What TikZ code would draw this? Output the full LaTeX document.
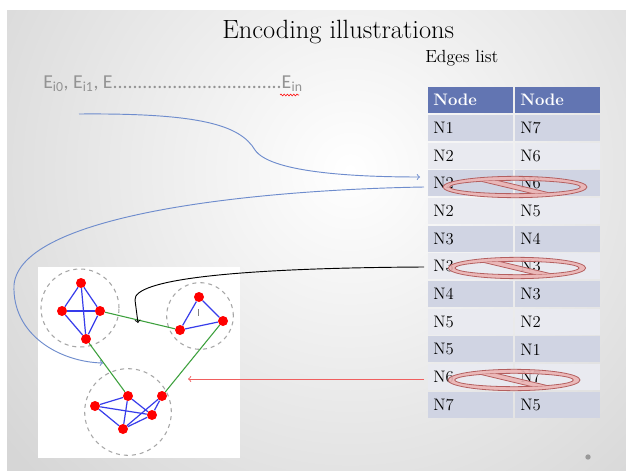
\documentclass[tikz,border=0pt]{standalone}
\usepackage{fontspec}
\usepackage{tikz}
\usepackage{xcolor}
\usetikzlibrary{decorations.pathmorphing}
\newfontfamily\carlito{Carlito}
\definecolor{hdrBlue}{RGB}{98, 117, 178}
\definecolor{rowDark}{RGB}{208, 212, 227}
\definecolor{rowLight}{RGB}{233, 234, 240}
\definecolor{noFill}{RGB}{236, 180, 180}
\definecolor{noDraw}{RGB}{180, 95, 95}
\definecolor{edgeBlue}{RGB}{55, 60, 235}
\definecolor{edgeGreen}{RGB}{60, 160, 60}
\definecolor{arrowBlue}{RGB}{110, 140, 205}
\definecolor{arrowRed}{RGB}{240, 95, 95}
\definecolor{slideGray}{RGB}{214, 214, 214}
\tikzset{
  cell/.style={rectangle, text width=55.75pt, inner xsep=4pt, inner ysep=0pt, minimum height=19.5pt, align=left, font=\fontsize{12.5}{14}\selectfont},
  headcell/.style={cell, fill=hdrBlue, text=white, font=\fontsize{12.5}{14}\selectfont\bfseries},
  dot/.style={circle, fill=red, inner sep=0pt, minimum size=7.5pt},
  cluster/.style={draw=gray!70, dashed, thick},
  inner/.style={edgeBlue, line width=0.9pt},
  outer/.style={edgeGreen, line width=0.8pt},
  link/.style={->, line width=0.7pt}
}
% crossed-out ellipse over a table row
\newcommand{\nosign}[3]{%
  \begin{scope}[shift={(#1,#2)}]
    \fill[noFill, fill opacity=0.9, even odd rule] (0,0) ellipse (#3 and 8pt) (0,0) ellipse ({#3-5pt} and 5pt);
    \draw[noDraw, line width=0.6pt] (0,0) ellipse (#3 and 8pt) (0,0) ellipse ({#3-5pt} and 5pt);
    \begin{scope}
      \clip (0,0) ellipse ({#3-5pt} and 5pt);
      \filldraw[fill=noFill, fill opacity=0.9, draw=noDraw, line width=0.6pt] (-56,-11) -- (-36,-11) -- (56,11) -- (36,11) -- cycle;
    \end{scope}
  \end{scope}}

\begin{document}
\begin{tikzpicture}[x=0.75pt, y=-0.75pt]
\useasboundingbox (0,0) rectangle (626,471);
% slide background
\begin{scope}
  \clip (7,10) rectangle (626,471);
  \fill[slideGray] (7,10) rectangle (626,471);
  \shade[inner color=white, outer color=slideGray] (350,170) circle (330pt);
\end{scope}
\fill[gray!80] (588,457) circle (2pt);

\node[anchor=base west, inner sep=0pt, font=\fontsize{19.8}{22}\selectfont] (title) at (222,38) {Encoding illustrations};
\node[anchor=base west, inner sep=0pt, font=\fontsize{13.2}{15}\selectfont] (elist) at (425,62) {Edges list};
\node[anchor=base west, inner sep=0pt, text=gray!85, font=\carlito\fontsize{14.8}{17}\selectfont] (seq) at (43,89)
  {E\textsubscript{i0}, E\textsubscript{i1}, E..................................E\textsubscript{in}};
\draw[red, line width=0.4pt, decorate, decoration={snake, amplitude=0.7pt, segment length=2.4pt}] (280,95) -- (299,95);

% edges table
\node[headcell] (h-a) at (470.5,100) {Node};
\node[headcell] (h-b) at (557.5,100) {Node};
\foreach \a/\b [count=\i] in {N1/N7, N2/N6, N2/N6, N2/N5, N3/N4, N3/N3, N4/N3, N5/N2, N5/N1, N6/N7, N7/N5} {
  \pgfmathsetmacro{\yy}{114+(\i-0.5)*27.7}
  \pgfmathtruncatemacro{\odd}{mod(\i,2)}
  \ifnum\odd=1 \def\rowc{rowDark}\else\def\rowc{rowLight}\fi
  \node[cell, fill=\rowc] (r\i-a) at (470.5,\yy) {\a};
  \node[cell, fill=\rowc] (r\i-b) at (557.5,\yy) {\b};
}
\nosign{515}{187}{54pt}
\nosign{517}{268}{51.5pt}
\nosign{514}{380}{49.5pt}

% graph picture
\fill[white] (38,267) rectangle (240,458);
\draw[cluster] (80,308) circle (29.25pt);
\draw[cluster] (200,316) circle (25pt);
\draw[cluster] (128,412) circle (32.5pt);
\draw[gray, line width=0.5pt] (198,309) -- (198,316);

\node[dot] (a1) at (81,283) {};
\node[dot] (a2) at (62,311) {};
\node[dot] (a3) at (100,311) {};
\node[dot] (a4) at (86,339) {};
\node[dot] (b1) at (199,297) {};
\node[dot] (b2) at (223,321) {};
\node[dot] (b3) at (180,330) {};
\node[dot] (c1) at (95,406) {};
\node[dot] (c2) at (128,396) {};
\node[dot] (c3) at (162,396) {};
\node[dot] (c4) at (152,415) {};
\node[dot] (c5) at (123,429) {};

\foreach \u/\v in {a1/a2, a1/a3, a1/a4, a2/a3, a2/a4, a3/a4, b1/b2, b1/b3, b2/b3,
                   c1/c2, c1/c4, c1/c5, c2/c4, c2/c5, c3/c4, c3/c5, c4/c5}
  \draw[inner] (\u) -- (\v);
\draw[outer] (a3) -- (b3);
\draw[outer] (a4) -- (c2);
\draw[outer] (b2) -- (c3);

% arrows between list and picture
\coordinate (seqEnd) at (79,114);
\coordinate (in3) at (420,177);
\coordinate (out3) at (424,187);
\coordinate (nearA) at (103,363);
\coordinate (out6) at (424,267);
\coordinate (nearB) at (138,323);
\coordinate (out10) at (424,379);
\coordinate (nearC) at (188,379);
\draw[link, arrowBlue] (seqEnd) .. controls (200,113) and (240,125) .. (255,150) .. controls (270,172) and (350,177) .. (in3);
\draw[link, arrowBlue] (out3) .. controls (250,190) and (20,215) .. (14,285) .. controls (12,335) and (60,362) .. (nearA);
\draw[link, black] (out6) .. controls (230,268) and (133,280) .. (135,300) -- (nearB);
\draw[link, arrowRed] (out10) -- (nearC);
\end{tikzpicture}
\end{document}
